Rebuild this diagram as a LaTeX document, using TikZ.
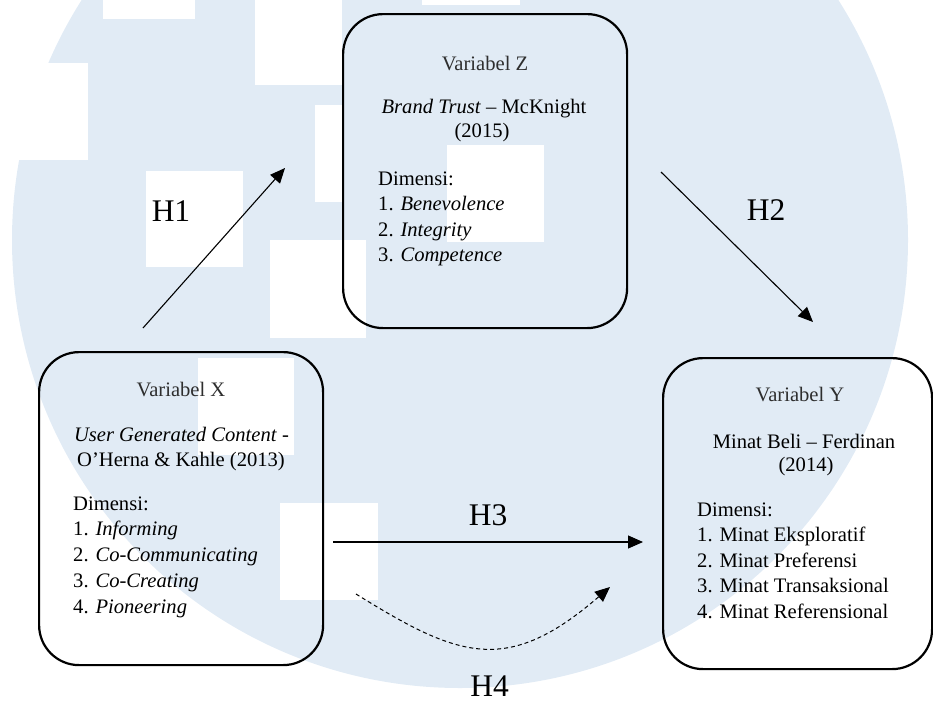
\documentclass[tikz,border=0pt]{standalone}
\usepackage{fontspec}
\setmainfont{Liberation Serif}
\usetikzlibrary{arrows.meta}
\definecolor{wm}{RGB}{225,235,245}
\begin{document}
\begin{tikzpicture}[x=1pt,y=-1pt,
  vbox/.style={draw=black,line width=2.2pt,rounded corners=40pt,anchor=north west,inner sep=0pt},
  txt/.style={inner sep=0pt,font=\fontsize{20.6}{25.7}\selectfont},
  ttl/.style={txt,text=black!82,anchor=base},
  lft/.style={txt,anchor=base west},
  ctr/.style={txt,anchor=base},
  hyp/.style={inner sep=0pt,font=\fontsize{31.5}{36}\selectfont,anchor=center},
  conn/.style={line width=1.1pt,-{Triangle[length=15pt,width=13pt]}},
  dashconn/.style={conn,line width=1pt,dash pattern=on 4pt off 3pt},
]
\useasboundingbox (0,0) rectangle (933,702);
% watermark
\fill[wm] (460,240) circle[radius=448];
\foreach \a/\b/\c/\d in {103/0/195/19, 0/63/88/160, 255/0/342/85, 422/0/520/5,
  315/105/342/202, 146/171/243/267, 270/240/366/338, 447/145/544/242,
  198/358/294/455, 280/503/378/600}
  \fill[white] (\a,\b) rectangle (\c,\d);
% boxes
\node[vbox,minimum width=284pt,minimum height=314pt] (Z) at (342,13) {};
\node[vbox,minimum width=284pt,minimum height=313pt] (X) at (38,351) {};
\node[vbox,minimum width=269pt,minimum height=311pt] (Y) at (662,357) {};
% box Z text
\node[ttl] (zt) at (485,70) {Variabel Z};
\node[ctr] (zs1) at (484,113.3) {\textit{Brand Trust} – McKnight};
\node[ctr] (zs2) at (482,137) {(2015)};
\node[lft] (zd) at (378,185) {Dimensi:};
\node[lft] (z1) at (378,210.6) {1. \textit{Benevolence}};
\node[lft] (z2) at (378,236.2) {2. \textit{Integrity}};
\node[lft] (z3) at (378,261.8) {3. \textit{Competence}};
% box X text
\node[ttl] (xt) at (181,396) {Variabel X};
\node[ctr] (xs1) at (181.5,441.7) {\textit{User Generated Content} -};
\node[ctr] (xs2) at (181,466.7) {O’Herna \& Kahle (2013)};
\node[lft] (xd) at (73,510) {Dimensi:};
\node[lft] (x1) at (73,535.7) {1. \textit{Informing}};
\node[lft] (x2) at (73,561.5) {2. \textit{Co-Communicating}};
\node[lft] (x3) at (73,587.3) {3. \textit{Co-Creating}};
\node[lft] (x4) at (73,613) {4. \textit{Pioneering}};
% box Y text
\node[ttl] (yt) at (800,401.7) {Variabel Y};
\node[ctr] (ys1) at (804,448.3) {Minat Beli – Ferdinan};
\node[ctr] (ys2) at (806,471.7) {(2014)};
\node[lft] (yd) at (697,516.5) {Dimensi:};
\node[lft] (y1) at (697,541.7) {1. Minat Eksploratif};
\node[lft] (y2) at (697,567.2) {2. Minat Preferensi};
\node[lft] (y3) at (697,592.7) {3. Minat Transaksional};
\node[lft] (y4) at (697,618.2) {4. Minat Referensional};
% hypothesis labels
\node[hyp] (H1) at (171,211) {H1};
\node[hyp] (H2) at (766,210) {H2};
\node[hyp] (H3) at (488,515) {H3};
\node[hyp] (H4) at (489.5,686.5) {H4};
% connectors
\coordinate (h1s) at (143,328); \coordinate (h1e) at (285,168);
\coordinate (h2s) at (661,172); \coordinate (h2e) at (813,322);
\coordinate (h3s) at (333,542); \coordinate (h3e) at (643,542);
\coordinate (h4s) at (356,594); \coordinate (h4e) at (610,587);
\draw[conn] (h1s) -- (h1e);
\draw[conn] (h2s) -- (h2e);
\draw[conn] (h3s) -- (h3e);
\draw[dashconn] (h4s) .. controls (459,658) and (507,676) .. (h4e);
\end{tikzpicture}
\end{document}
